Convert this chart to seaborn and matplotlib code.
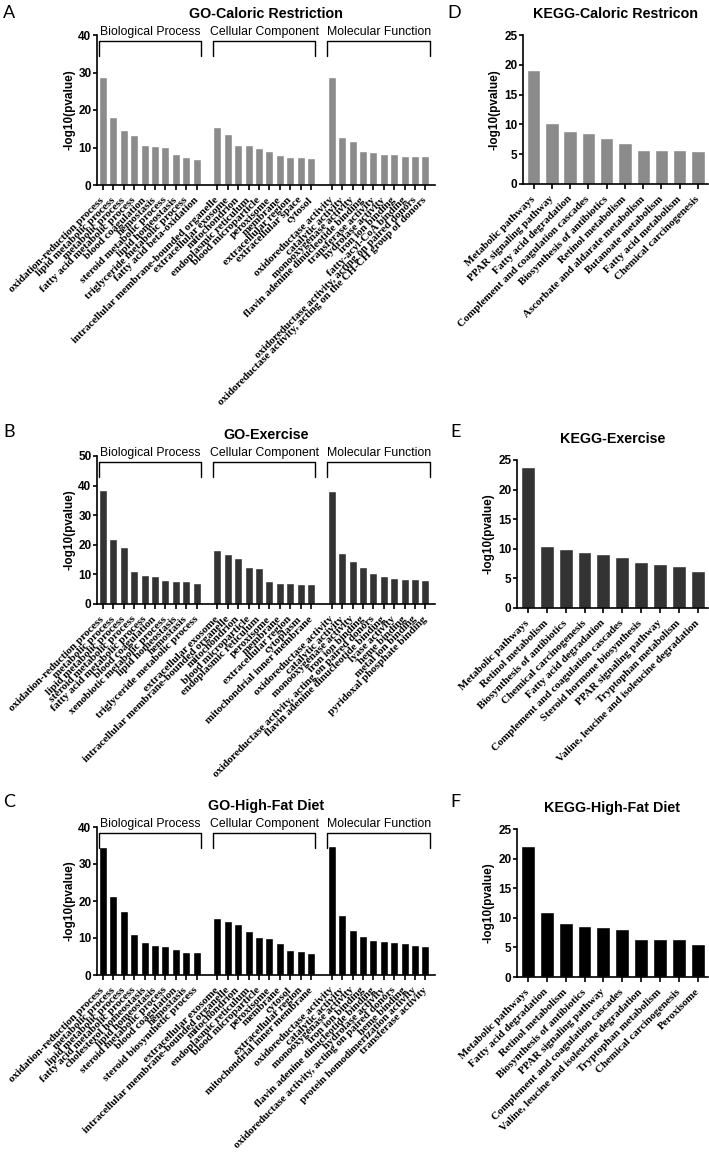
import matplotlib
matplotlib.use("Agg")
import matplotlib.pyplot as plt
import matplotlib.transforms as mtransforms
import pandas as pd
import seaborn as sns

sns.set_theme(style="ticks")
plt.rcParams['font.family'] = ['Liberation Sans', 'DejaVu Sans']
plt.rcParams.update({"text.color": "black", "axes.labelcolor": "black",
                     "xtick.color": "black", "ytick.color": "black",
                     "axes.edgecolor": "black"})

# ---------------- data ----------------
cr_bp_terms = ["oxidation-reduction process", "lipid metabolic process", "metabolic process",
               "fatty acid metabolic process", "blood coagulation", "hemostasis",
               "steroid metabolic process", "lipid homeostasis", "triglyceride metabolic process",
               "fatty acid beta-oxidation"]
cr_bp_vals = [28.8, 18.2, 14.8, 13.4, 10.8, 10.3, 10.1, 8.4, 7.4, 7.0]
cr_cc_terms = ["intracellular membrane-bounded organelle", "extracellular exosome", "mitochondrion",
               "endoplasmic reticulum", "blood microparticle", "peroxisome", "membrane",
               "extracellular region", "extracellular space", "cytosol"]
cr_cc_vals = [15.6, 13.7, 10.7, 10.6, 10.0, 9.2, 7.9, 7.6, 7.4, 7.1]
cr_mf_terms = ["oxidoreductase activity", "catalytic activity", "monooxygenase activity",
               "flavin adenine dinucleotide binding", "transferase activity", "hydrolase activity",
               "iron ion binding", "fatty-acyl-CoA binding",
               "oxidoreductase activity, acting on paired donors",
               "oxidoreductase activity, acting on the CH-CH group of donors"]
cr_mf_vals = [28.9, 12.9, 11.8, 9.0, 8.8, 8.3, 8.2, 7.8, 7.8, 7.8]

ex_bp_terms = ["oxidation-reduction process", "metabolic process", "lipid metabolic process",
               "steroid metabolic process", "fatty acid metabolic process", "blood coagulation",
               "xenobiotic metabolic process", "lipid homeostasis", "hemostasis",
               "triglyceride metabolic process"]
ex_bp_vals = [38.6, 21.9, 19.2, 11.2, 9.7, 9.3, 8.0, 7.9, 7.9, 7.1]
ex_cc_terms = ["extracellular exosome", "intracellular membrane-bounded organelle", "mitochondrion",
               "blood microparticle", "endoplasmic reticulum", "peroxisome", "membrane",
               "extracellular region", "cytoplasm", "mitochondrial inner membrane"]
ex_cc_vals = [18.3, 17.0, 15.5, 12.6, 12.2, 7.8, 7.2, 7.2, 6.9, 6.6]
ex_mf_terms = ["oxidoreductase activity", "catalytic activity", "monooxygenase activity",
               "iron ion binding", "oxidoreductase activity, acting on paired donors",
               "flavin adenine dinucleotide binding", "lyase activity", "heme binding",
               "metal ion binding", "pyridoxal phosphate binding"]
ex_mf_vals = [38.1, 17.2, 14.5, 12.6, 10.5, 9.4, 8.8, 8.5, 8.3, 8.2]

hfd_bp_terms = ["oxidation-reduction process", "metabolic process", "lipid metabolic process",
                "fatty acid metabolic process", "cholesterol homeostasis", "lipid homeostasis",
                "steroid metabolic process", "blood coagulation", "hemostasis",
                "steroid biosynthetic process"]
hfd_bp_vals = [34.6, 21.3, 17.4, 11.2, 8.8, 8.0, 7.9, 6.9, 6.2, 6.1]
hfd_cc_terms = ["extracellular exosome", "intracellular membrane-bounded organelle", "mitochondrion",
                "endoplasmic reticulum", "blood microparticle", "peroxisome", "membrane",
                "cytosol", "extracellular region", "mitochondrial inner membrane"]
hfd_cc_vals = [15.4, 14.7, 13.9, 12.0, 10.2, 10.1, 8.6, 6.8, 6.5, 5.9]
hfd_mf_terms = ["oxidoreductase activity", "catalytic activity", "monooxygenase activity",
                "iron ion binding", "flavin adenine dinucleotide binding", "hydrolase activity",
                "oxidoreductase activity, acting on paired donors", "heme binding",
                "protein homodimerization activity", "transferase activity"]
hfd_mf_vals = [34.8, 16.3, 12.1, 10.5, 9.5, 9.2, 9.0, 8.7, 8.2, 7.8]

kegg_cr_terms = ["Metabolic pathways", "PPAR signaling pathway", "Fatty acid degradation",
                 "Complement and coagulation cascades", "Biosynthesis of antibiotics",
                 "Retinol metabolism", "Ascorbate and aldarate metabolism",
                 "Butanoate metabolism", "Fatty acid metabolism", "Chemical carcinogenesis"]
kegg_cr_vals = [19.1, 10.3, 8.9, 8.55, 7.8, 6.9, 5.7, 5.7, 5.7, 5.5]
kegg_ex_terms = ["Metabolic pathways", "Retinol metabolism", "Biosynthesis of antibiotics",
                 "Chemical carcinogenesis", "Fatty acid degradation",
                 "Complement and coagulation cascades", "Steroid hormone biosynthesis",
                 "PPAR signaling pathway", "Tryptophan metabolism",
                 "Valine, leucine and isoleucine degradation"]
kegg_ex_vals = [23.9, 10.4, 10.0, 9.5, 9.2, 8.6, 7.8, 7.5, 7.1, 6.3]
kegg_hfd_terms = ["Metabolic pathways", "Fatty acid degradation", "Retinol metabolism",
                  "Biosynthesis of antibiotics", "PPAR signaling pathway",
                  "Complement and coagulation cascades",
                  "Valine, leucine and isoleucine degradation", "Tryptophan metabolism",
                  "Chemical carcinogenesis", "Peroxisome"]
kegg_hfd_vals = [22.2, 10.9, 9.15, 8.6, 8.4, 8.05, 6.45, 6.45, 6.35, 5.65]

group_names = ["Biological Process", "Cellular Component", "Molecular Function"]

COL_CR = "#8b8b8b"
COL_EX = "#333333"
COL_HFD = "#000000"

W, H = 709, 1161
fig = plt.figure(figsize=(W / 100, H / 100), dpi=100)


def px_axes(left, top, right, bottom):
    return fig.add_axes([left / W, 1 - bottom / H, (right - left) / W, (bottom - top) / H])


TICK_FONT = dict(family=['Liberation Serif', 'DejaVu Serif'], weight='bold', size=7.9)
YTICK_FONT = dict(family=['Liberation Sans', 'DejaVu Sans'], weight='bold', size=8.5)
LABEL_SHIFT = mtransforms.ScaledTranslation(-3 / 100, 0, fig.dpi_scale_trans)


def rotated_xlabels(ax, labels):
    ax.set_xticklabels(labels, rotation=45, ha='right', va='center',
                       rotation_mode='anchor', fontdict=TICK_FONT)
    for lab in ax.get_xticklabels():
        lab.set_transform(lab.get_transform() + LABEL_SHIFT)


def style_axes(ax, ymax, ystep):
    sns.despine(ax=ax)
    for s in ("left", "bottom"):
        ax.spines[s].set_linewidth(1.2)
        ax.spines[s].set_color("black")
    ax.set_ylim(0, ymax)
    yt = list(range(0, ymax + 1, ystep))
    ax.set_yticks(yt)
    ax.set_yticklabels([str(v) for v in yt], fontdict=YTICK_FONT)
    ax.tick_params(axis='y', length=3, width=1.2, pad=1, colors='black')
    ax.tick_params(axis='x', length=3.5, width=1.2, pad=6.3, colors='black')
    ax.set_xlabel("")
    ax.set_ylabel("-log10(pvalue)", fontsize=8.5, fontweight='bold', color='black')


def go_panel(ax, groups, color, ymax, title):
    rows = []
    order = []
    for gi, (terms, vals) in enumerate(groups):
        if gi > 0:
            order.append(f"__gap{gi}")
        for t, v in zip(terms, vals):
            rows.append({"term": t, "value": v, "group": group_names[gi]})
            order.append(t)
    df = pd.DataFrame(rows)
    sns.barplot(data=df, x="term", y="value", order=order, color=color,
                saturation=1, width=0.77, ax=ax, errorbar=None)
    pos = [i for i, t in enumerate(order) if not t.startswith("__gap")]
    labs = [t for t in order if not t.startswith("__gap")]
    ax.set_xticks(pos)
    rotated_xlabels(ax, labs)
    ax.set_xlim(-0.58, len(order) - 0.08)
    style_axes(ax, ymax, 10)
    ax.yaxis.set_label_coords(-0.064, 0.5)
    ax.set_title(title, fontsize=10.3, fontweight='bold', pad=12)
    trans = mtransforms.blended_transform_factory(ax.transData, ax.transAxes)
    for gi, name in enumerate(group_names):
        idx = [order.index(t) for t in groups[gi][0]]
        s, e = min(idx) - 0.42, max(idx) + 0.42
        ax.plot([s, s, e, e], [0.857, 0.962, 0.962, 0.857], transform=trans,
                color='black', lw=1.0, clip_on=False)
        ax.text((s + e) / 2, 1.018, name, transform=trans, ha='center', va='center',
                fontsize=8.8, color='black')


def kegg_panel(ax, terms, vals, color, title):
    df = pd.DataFrame({"term": terms, "value": vals})
    sns.barplot(data=df, x="term", y="value", order=terms, color=color,
                saturation=1, width=0.73, ax=ax, errorbar=None)
    ax.set_xticks(range(len(terms)))
    rotated_xlabels(ax, terms)
    ax.set_xlim(-0.58, len(terms) - 0.45)
    style_axes(ax, 25, 5)
    ax.yaxis.set_label_coords(-0.12, 0.5)
    ax.set_title(title, fontsize=10.3, fontweight='bold', pad=12)


axA = px_axes(97, 35, 435, 185)
axB = px_axes(97, 456, 435, 604)
axC = px_axes(97, 827, 435, 975)
axD = px_axes(523, 35, 708, 184)
axE = px_axes(517, 460, 708, 608)
axF = px_axes(517, 829, 708, 977)

go_panel(axA, [(cr_bp_terms, cr_bp_vals), (cr_cc_terms, cr_cc_vals), (cr_mf_terms, cr_mf_vals)],
         COL_CR, 40, "GO-Caloric Restriction")
go_panel(axB, [(ex_bp_terms, ex_bp_vals), (ex_cc_terms, ex_cc_vals), (ex_mf_terms, ex_mf_vals)],
         COL_EX, 50, "GO-Exercise")
go_panel(axC, [(hfd_bp_terms, hfd_bp_vals), (hfd_cc_terms, hfd_cc_vals), (hfd_mf_terms, hfd_mf_vals)],
         COL_HFD, 40, "GO-High-Fat Diet")

kegg_panel(axD, kegg_cr_terms, kegg_cr_vals, COL_CR, "KEGG-Caloric Restricon")
kegg_panel(axE, kegg_ex_terms, kegg_ex_vals, COL_EX, "KEGG-Exercise")
kegg_panel(axF, kegg_hfd_terms, kegg_hfd_vals, COL_HFD, "KEGG-High-Fat Diet")

letter_kw = dict(fontsize=13, family=['Lato', 'DejaVu Sans'], fontweight='normal',
                 va='center', ha='left', color='black')
for letter, x, y in [("A", 3, 13), ("B", 3, 432), ("C", 3, 802),
                     ("D", 447, 13), ("E", 450, 432), ("F", 450, 802)]:
    fig.text(x / W, 1 - y / H, letter, **letter_kw)

fig.savefig("out.png", dpi=100)
